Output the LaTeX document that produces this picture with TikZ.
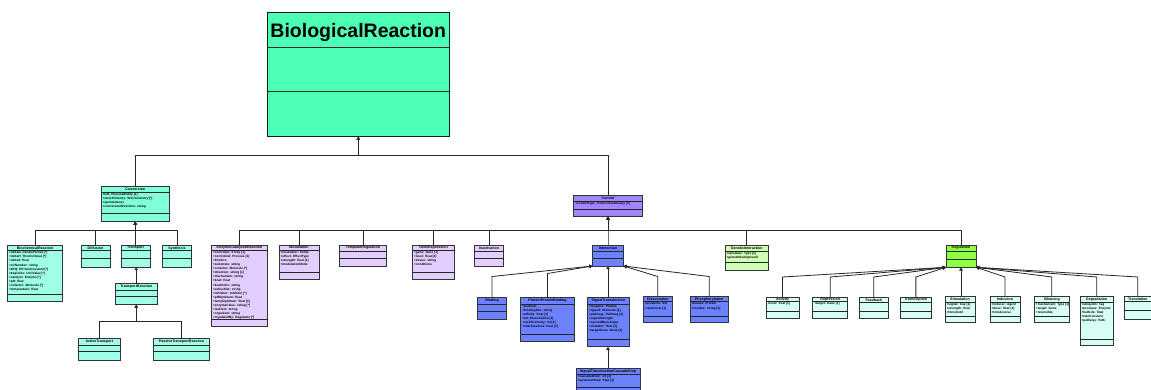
\documentclass[tikz,border=0pt]{standalone}
\usepackage{fontspec}
\setmainfont{Liberation Sans}
\usetikzlibrary{arrows.meta,calc}

\definecolor{mainfill}{HTML}{4DFFB4}
\definecolor{convfill}{HTML}{80FFDA}
\definecolor{convchild}{HTML}{9EFFE6}
\definecolor{ctrlfill}{HTML}{A286FF}
\definecolor{lpurple}{HTML}{E2CFFF}
\definecolor{bluefill}{HTML}{6C82FF}
\definecolor{lgreen}{HTML}{CEFFB5}
\definecolor{greenfill}{HTML}{8EFF45}
\definecolor{gchild}{HTML}{D8FFF6}

\tikzset{
  clsbox/.style={draw=black!80, line width=0.7pt, rectangle, inner sep=0pt, outer sep=0pt},
  clsdiv/.style={draw=black!85, line width=0.7pt},
  clstitle/.style={font=\bfseries\fontsize{3.6}{4}\selectfont, inner sep=0pt},
  clsattr/.style={font=\bfseries\fontsize{3.15}{4.1}\selectfont, align=left, inner sep=0pt, anchor=north west},
  gen/.style={draw=black!85, line width=0.8pt, -{Triangle[open,length=3.2pt,width=3.6pt]}},
}

% class box: name, fill, left, top, width, height, divider 1, divider 2, title
\newcommand\umlcls[9]{%
  \node[clsbox, fill=#2, minimum width=#5pt, minimum height=#6pt, anchor=north west] (#1) at (#3,#4) {};
  \draw[clsdiv] ([yshift=-#7pt]#1.north west) -- ([yshift=-#7pt]#1.north east);
  \draw[clsdiv] ([yshift=-#8pt]#1.north west) -- ([yshift=-#8pt]#1.north east);
  \node[clstitle] (#1-title) at ([yshift=-0.5*#7pt]#1.north) {#9};
}
% attribute list below the title row: name, divider 1, lines
\newcommand\umlattr[3]{%
  \node[clsattr] (#1-attr) at ([xshift=1.4pt,yshift=-#2pt-0.8pt]#1.north west) {#3};
}

\begin{document}
\begin{tikzpicture}[x=1pt,y=-1pt]
\useasboundingbox (0,0) rectangle (1151,390);
\fill[white] (0,0) rectangle (1151,390);
\clip (0,0) rectangle (1151,390);

% root
\node[clsbox, fill=mainfill, draw=black!75!teal, line width=0.9pt, minimum width=182.5pt, minimum height=124pt, anchor=north west] (main) at (267,12.5) {};
\draw[clsdiv] ([yshift=-35.2pt]main.north west) -- ([yshift=-35.2pt]main.north east);
\draw[clsdiv] ([yshift=-79.2pt]main.north west) -- ([yshift=-79.2pt]main.north east);
\node[font=\bfseries\fontsize{19.5}{20}\selectfont, inner sep=0pt] (main-title) at ([yshift=-20pt]main.north) {BiologicalReaction};

% conversion branch
\umlcls{conv}{convfill}{101}{186}{68.5}{35.5}{6.3}{27.3}{Conversion}
\umlattr{conv}{6.3}{+left: PhysicalEntity [1]\\+stoichiometry: Stoichiometry [*]\\+spontaneous\\+conversionDirection: string}

\umlcls{c1}{convchild}{7.5}{245.5}{55}{56}{5}{48.5}{BiochemicalReaction}
\umlattr{c1}{5}{+deltaG: DeltaGPrime0 [*]\\+deltaH: ThermoValue [*]\\+deltaS: float\\+eCNumber: string\\+kEQ: KPrimeConstant [*]\\+keqUnits: UnitValue [*]\\+catalyst: Enzyme [*]\\+pH: float\\+cofactor: Molecule [*]\\+temperature: float}
\umlcls{c2}{convchild}{81}{245.5}{29}{21.5}{5.2}{12.8}{Diffusion}
\umlcls{c3}{convchild}{121}{245.5}{29}{21.5}{5.2}{12.8}{Transport}
\umlcls{c4}{convchild}{162.5}{245.5}{29}{21.5}{5.2}{12.8}{Synthesis}
\umlcls{c3a}{convchild}{115.5}{283.5}{41.5}{21}{6.5}{13.2}{TransportReaction}
\umlcls{gc1}{convchild}{78}{338.5}{42.5}{21.5}{6.5}{13.2}{ActiveTransport}
\umlcls{gc2}{convchild}{153.5}{338.5}{56}{21.5}{6.5}{13.2}{PassiveTransportReaction}

% control branch
\umlcls{ctrl}{ctrlfill}{573.75}{195.5}{68.5}{21.3}{5.5}{13.5}{Control}
\umlattr{ctrl}{5.5}{+controlType: ControlVocabulary [1]}

\umlcls{p1}{lpurple}{211.5}{245}{56}{81}{5}{74.3}{EnzymeCatalyzedReaction}
\umlattr{p1}{5}{+controller: Entity [1]\\+controlled: Process [1]\\+kinetics\\+substrate: string\\+cofactor: Molecule [*]\\+direction: string [1]\\+mechanism: string\\+kcat: float\\+kcatUnits: string\\+activeSite: string\\+inhibitor: Inhibitor [*]\\+pHOptimum: float\\+tempOptimum: float [1]\\+enzymeClass: string [*]\\+isoform: string\\+organism: string\\+regulatedBy: Regulator [*]}
\umlcls{p2}{lpurple}{279}{245}{40}{34.3}{5}{27.7}{Modulation}
\umlattr{p2}{5}{+modulator: Entity\\+effect: EffectType\\+strength: float [1]\\+modulationMode}
\umlcls{p3}{lpurple}{339.5}{245}{47}{21}{6}{13.3}{TemplateRegulation}
\umlcls{p4}{lpurple}{412.5}{245}{42}{34.3}{5}{27.7}{GeneExpression}
\umlattr{p4}{5}{+gene: Gene [1]\\+level: float [1]\\+tissue: string\\+conditions}
\umlcls{p5}{lpurple}{474.3}{245}{29.5}{21}{6}{13.3}{Inactivation}

% interaction sub-branch
\umlcls{b0}{bluefill}{592.5}{245}{31}{21}{6}{13.3}{Interaction}
\umlcls{ba}{bluefill}{477.3}{297.3}{29.4}{21.7}{7}{13.7}{Binding}
\umlcls{bb}{bluefill}{520.7}{297.3}{53.6}{44.4}{6.7}{37}{ProteinProteinBinding}
\umlattr{bb}{6.7}{+partners\\+bindingSite: string\\+affinity: float [1]\\+kd: Dissociation [1]\\+stoichiometry: int [1]\\+interfaceArea: float [1]}
\umlcls{bc}{bluefill}{587.5}{297.3}{41.5}{49.4}{6.7}{41.7}{SignalTransduction}
\umlattr{bc}{6.7}{+receptor: Protein\\+ligand: Molecule [1]\\+pathway: Pathway [1]\\+signalStrength\\+secondMessenger\\+duration: float [1]\\+targetGene: Gene [1]}
\umlcls{bd}{bluefill}{576}{368.3}{64}{30}{6}{19}{SignalTransductionCascadeStep}
\umlattr{bd}{6}{+cascadeOrder: int [1]\\+upstreamStep: Step [1]}
\umlcls{be}{bluefill}{643.3}{296.7}{29}{25.6}{5}{20}{Dissociation}
\umlattr{be}{5}{+products: Set\\+rateConst [1]}
\umlcls{bf}{bluefill}{690}{296.7}{38.3}{25.6}{5}{20}{Phosphorylation}
\umlattr{bf}{5}{+kinase: Protein\\+residue: string [1]}

\umlcls{lg}{lgreen}{725}{245}{43.3}{25}{6}{17.7}{GeneticInteraction}
\umlattr{lg}{6}{+epistasis: Type [1]\\+geneticBackground}

% regulation sub-branch
\umlcls{g0}{greenfill}{946}{245}{30}{22.3}{6}{14}{Regulation}
\umlcls{g1}{gchild}{766}{297.3}{33}{21}{4.4}{13.7}{Activity}
\umlattr{g1}{4.4}{+level: float [1]}
\umlcls{g2}{gchild}{812.7}{297.3}{35}{21}{4.4}{13.7}{Repression}
\umlattr{g2}{4.4}{+target: Gene [1]}
\umlcls{g3}{gchild}{859.3}{297.3}{29}{21}{5.4}{13.7}{Feedback}
\umlcls{g4}{gchild}{900}{297.3}{31.7}{21}{5.4}{13.7}{Transcription}
\umlcls{g5}{gchild}{945}{296.7}{30}{25.6}{5.6}{20}{Stimulation}
\umlattr{g5}{5.6}{+signal: Cue [1]\\+strength: float\\+threshold}
\umlcls{g6}{gchild}{990}{296.7}{30}{25.6}{5.6}{20}{Induction}
\umlattr{g6}{5.6}{+inducer: Agent\\+dose: float [1]\\+timeCourse}
\umlcls{g7}{gchild}{1034.3}{296.7}{35}{25.6}{5.6}{20}{Silencing}
\umlattr{g7}{5.6}{+mechanism: Type [1]\\+target: Gene\\+reversible}
\umlcls{g8}{gchild}{1080}{296.7}{33.3}{49}{5.3}{42.3}{Degradation}
\umlattr{g8}{5.3}{+ubiquitin: Tag\\+protease: Enzyme\\+halfLife: float\\+rateConstant\\+pathway: Path}
\umlcls{g9}{gchild}{1124}{296.7}{27.6}{22.3}{5}{14}{Translation}

% connector rails
\coordinate (busTop) at (0,155.5);
\coordinate (busConv) at (0,230.7);
\coordinate (busCtrl) at (0,230.7);
\coordinate (busTrans) at (0,321);
\coordinate (fanB) at (0,276.5);
\coordinate (fanBb) at (0,273.5);
\coordinate (fanG) at (0,277);

% generalisations
\draw[gen] (conv.north) -- (conv.north |- busTop) -| (main.south);
\draw[gen] (ctrl.north) -- (ctrl.north |- busTop) -| (main.south);

\foreach \c in {c1,c2,c3,c4}
  \draw[gen] (\c.north) -- (\c.north |- busConv) -| (conv.south);
\draw[gen] (c3a.north) -- (c3a.north |- c3.south);
\foreach \c in {gc1,gc2}
  \draw[gen] (\c.north) -- (\c.north |- busTrans) -| (c3a.south);

\foreach \c in {p1,p2,p3,p4,p5,b0,lg,g0}
  \draw[gen] (\c.north) -- (\c.north |- busCtrl) -| (ctrl.south);

\draw[gen] (ba.north) -- (ba.north |- fanB) -- (b0.south west);
\draw[gen] (bb.north) -- (bb.north |- fanBb) -- (b0.south west);
\draw[gen] (bc.north -| b0.south) -- (b0.south);
\draw[gen] (be.north) -- (be.north |- fanB) -- (b0.south east);
\draw[gen] (bf.north) -- (bf.north |- fanB) -- (b0.south east);
\draw[gen] (bd.north) -- (bd.north |- bc.south);

\foreach \c in {g1,g2,g3,g4}
  \draw[gen] (\c.north) -- (\c.north |- fanG) -- (g0.south west);
\draw[gen] (g5.north -| g0.south) -- (g0.south);
\foreach \c in {g6,g7,g8,g9}
  \draw[gen] (\c.north) -- (\c.north |- fanG) -- (g0.south east);
\end{tikzpicture}
\end{document}
